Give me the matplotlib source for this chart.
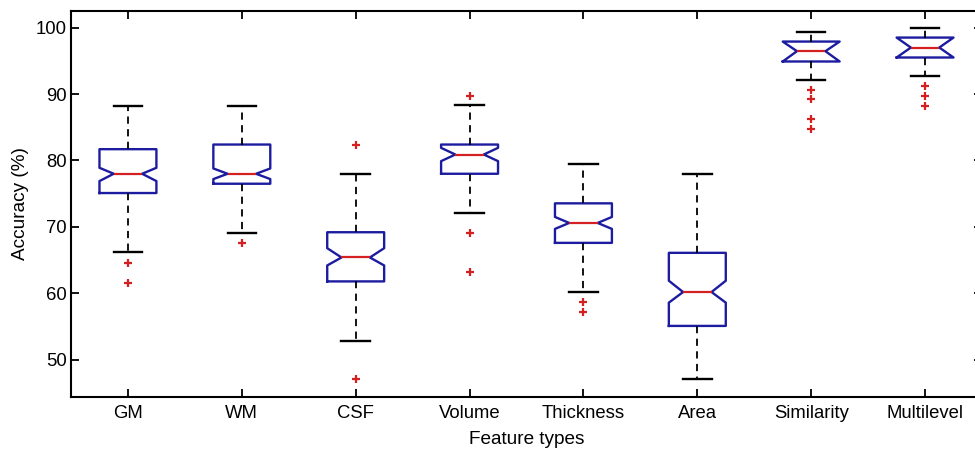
import matplotlib
matplotlib.use("Agg")
import matplotlib.pyplot as plt

# ==========================================
# DATA
# ==========================================
categories = ["GM", "WM", "CSF", "Volume", "Thickness", "Area", "Similarity", "Multilevel"]
whislo = [66.2, 69.1, 52.9, 72.1, 60.2, 47.1, 92.1, 92.7]
q1 = [75.1, 76.5, 61.8, 78.0, 67.6, 55.1, 94.9, 95.5]
cilo = [76.9, 77.2, 64.2, 79.9, 69.7, 58.6, 94.9, 95.5]
med = [78.0, 78.0, 65.4, 80.9, 70.6, 60.2, 96.45, 97.0]
cihi = [78.9, 78.8, 66.8, 81.9, 71.5, 61.9, 97.9, 98.5]
q3 = [81.7, 82.4, 69.2, 82.4, 73.55, 66.1, 97.9, 98.5]
whishi = [88.25, 88.25, 78.0, 88.3, 79.4, 78.0, 99.3, 99.95]
fliers = [
    [64.6, 61.6],
    [67.6],
    [82.4, 47.1],
    [89.7, 69.1, 63.2],
    [58.7, 57.2],
    [],
    [90.6, 89.2, 86.2, 84.7],
    [91.2, 89.7, 88.25],
]

BOX_COLOR = "#1c1ca0"
MED_COLOR = "#d42020"


def main() -> None:
    plt.rcParams["font.family"] = ["Liberation Sans", "DejaVu Sans"]
    plt.rcParams["font.size"] = 13.3

    stats = []
    for i, name in enumerate(categories):
        stats.append(dict(label=name, whislo=whislo[i], q1=q1[i], cilo=cilo[i],
                          med=med[i], cihi=cihi[i], q3=q3[i], whishi=whishi[i],
                          fliers=fliers[i]))

    fig = plt.figure(figsize=(9.75, 4.5), dpi=100)
    ax = fig.add_axes([71 / 975, 1 - 397 / 450, 911 / 975, 386 / 450])

    ax.bxp(stats, positions=range(1, len(categories) + 1), widths=0.5,
           shownotches=True, showfliers=True,
           boxprops=dict(color=BOX_COLOR, lw=1.7),
           medianprops=dict(color=MED_COLOR, lw=1.6),
           whiskerprops=dict(color="black", lw=1.3, linestyle=(0, (4, 3))),
           capprops=dict(color="black", lw=1.7),
           flierprops=dict(marker="+", markeredgecolor=MED_COLOR, markersize=5.5,
                           markeredgewidth=1.6, linestyle="none"))

    ax.set_xlim(0.5, 8.5)
    ax.set_ylim(44.4, 102.5)
    ax.set_yticks(range(50, 101, 10))
    ax.set_xticks(range(1, len(categories) + 1))
    ax.set_xticklabels(categories)
    ax.tick_params(direction="in", length=6, width=1.3, top=True, right=True)
    ax.tick_params(axis="x", pad=6)
    ax.tick_params(axis="y", pad=3)
    for sp in ax.spines.values():
        sp.set_linewidth(1.5)

    ax.set_xlabel("Feature types", fontsize=13.7, labelpad=6)
    ax.set_ylabel("Accuracy (%)", fontsize=13.7, labelpad=5)

    fig.savefig("out.png", dpi=100)
    plt.close(fig)


if __name__ == "__main__":
    main()
